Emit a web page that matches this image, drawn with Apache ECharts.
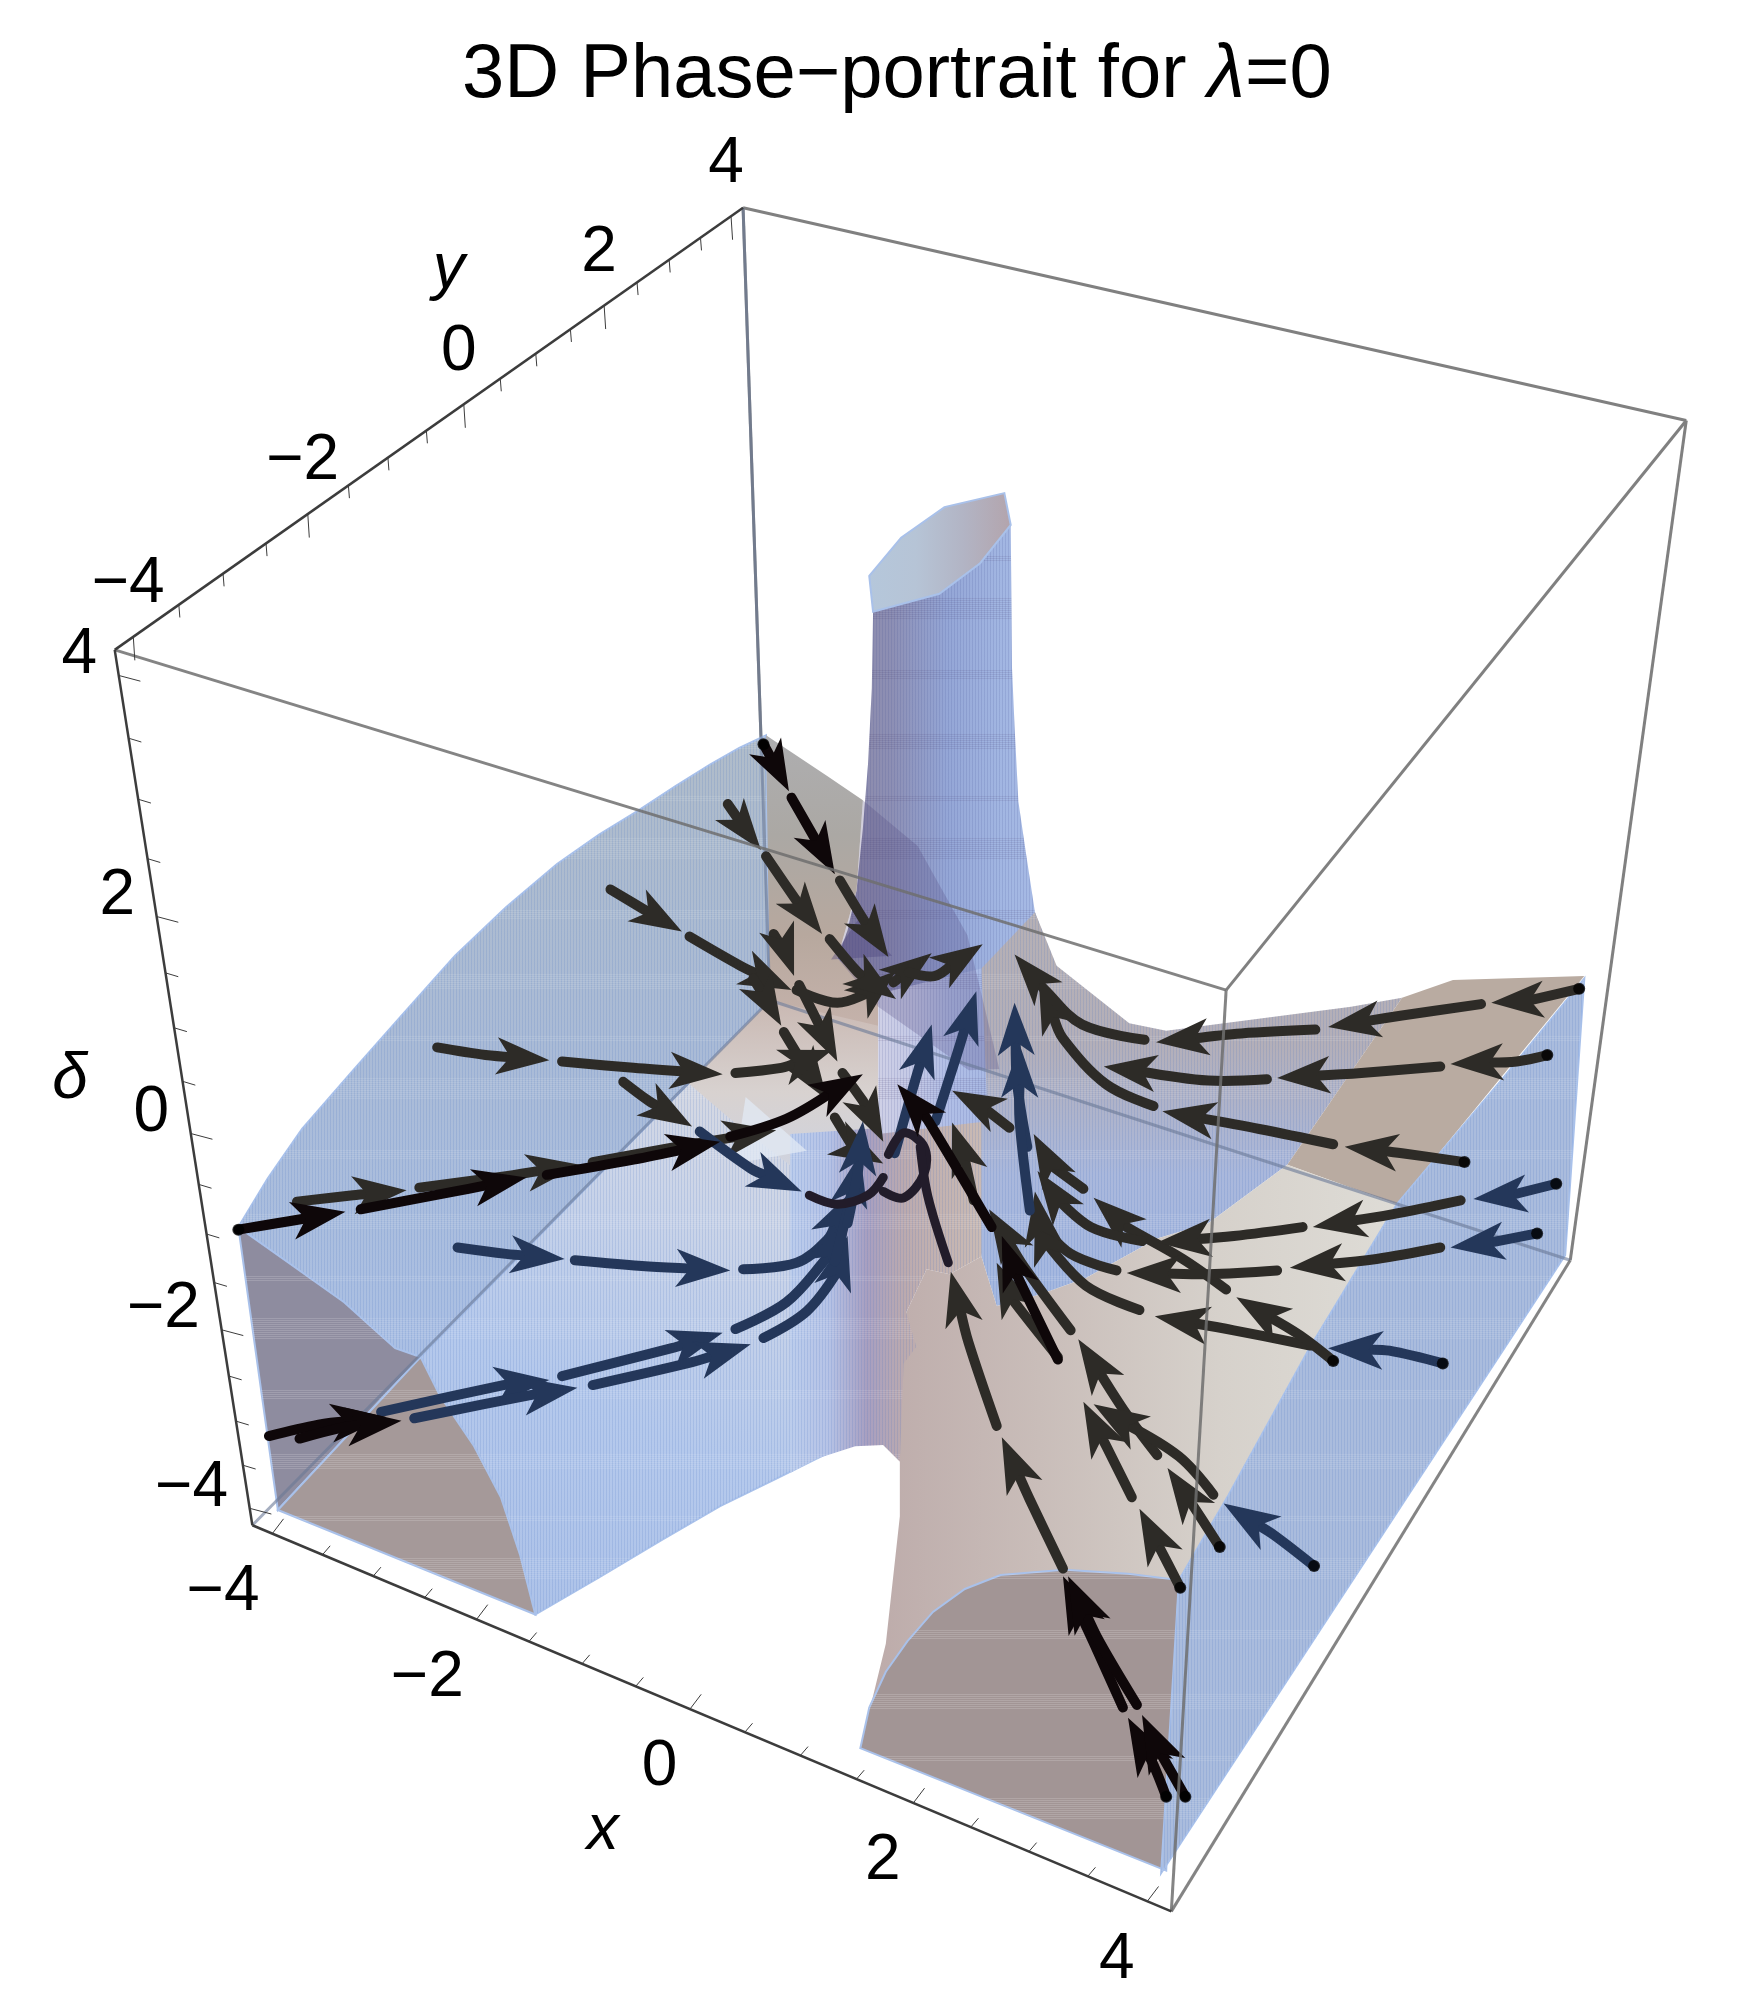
<!DOCTYPE html>
<html>
<head>
<meta charset="utf-8">
<title>3D Phase-portrait</title>
<script src="https://cdn.jsdelivr.net/npm/echarts@6/dist/echarts.min.js"></script>
<style>
    html, body { margin: 0; padding: 0; background: #fff; }
    #main { width: 1764px; height: 1998px; }
</style>
</head>
<body>
<div id="main"></div>
<script>
    // all picture data is in plot units: x 0..1384, y 0..1568 (y runs downwards)

    // box corners, named by (x, y, delta) sign
    const cornerMMP = [90, 510];
    const cornerMPP = [583, 163];
    const cornerPPP = [1323, 330];
    const cornerPMP = [962, 777];
    const cornerMMM = [198, 1197];
    const cornerPMM = [919, 1500];
    const cornerPPM = [1232, 989];
    const cornerMPM = [604, 785];

    // tick values
    const xTicks = [-4, -3.5, -3, -2.5, -2, -1.5, -1, -0.5, 0, 0.5, 1, 1.5, 2, 2.5, 3, 3.5, 4];
    const yTicks = xTicks;
    const deltaTicks = xTicks;
    const tickLabels = ['−4', '−2', '0', '2', '4'];

    // surface patches
    const towerBody = [[682, 452], [685, 480], [684, 540], [681, 600], [677, 650], [672, 699], [665, 730], [657, 752], [700, 800], [770, 800], [829, 762], [812, 716], [805, 670], [799, 629], [796, 570], [794, 524], [793, 412], [788, 387], [741, 398], [707, 422]];
    const towerMouth = [[682, 452], [707, 422], [741, 398], [788, 387], [793, 412], [769, 442], [737, 466], [685, 480]];
    const wingBack = [[812, 716], [829, 758], [886, 803], [915, 809], [1060, 790], [1100, 783], [1010, 914], [948, 960], [908, 972], [852, 1003], [816, 1016], [782, 1025], [770, 986], [760, 890], [770, 760]];
    const wingTan = [[1100, 783], [1140, 769], [1243, 766], [1096, 945], [1010, 914]];
    const frontBody = [[1010, 914], [1096, 945], [1028, 1057], [964, 1173], [925, 1240], [885, 1235], [835, 1232], [785, 1236], [757, 1247], [732, 1265], [712, 1288], [695, 1312], [682, 1340], [675, 1372], [695, 1290], [706, 1190], [706, 1147], [693, 1134], [711, 1030], [727, 996], [745, 1000], [770, 986], [782, 1025], [816, 1016], [852, 1003], [908, 972], [948, 960]];
    const frontCap = [[675, 1372], [682, 1340], [695, 1312], [712, 1288], [732, 1265], [757, 1247], [785, 1236], [835, 1232], [885, 1235], [925, 1240], [915, 1468]];
    const wallRight = [[1243, 768], [1228, 985], [911, 1470], [925, 1240], [964, 1173], [1028, 1057], [1096, 945], [1176, 850]];
    const armBack = [[187, 963], [210, 925], [237, 886], [277, 840], [315, 797], [357, 750], [397, 712], [437, 678], [470, 655], [501, 636], [530, 617], [557, 600], [580, 587], [601, 577], [604, 785], [330, 1065], [310, 1058], [270, 1022], [225, 990]];
    const armFront = [[330, 1065], [604, 785], [640, 880], [660, 950], [665, 1133], [640, 1145], [610, 1160], [565, 1182], [520, 1208], [470, 1238], [420, 1267], [408, 1220], [393, 1175], [372, 1135], [345, 1095]];
    const capLeftDark = [[187, 963], [218, 1185], [330, 1065], [310, 1058], [270, 1022], [225, 990]];
    const capLeftBrown = [[218, 1185], [420, 1267], [408, 1220], [393, 1175], [372, 1135], [345, 1095], [330, 1065]];
    const backFold = [[601, 577], [649, 609], [677, 628], [672, 699], [657, 752], [689, 780], [689, 812], [620, 800], [604, 785]];
    const centerPale = [[604, 785], [689, 805], [689, 930], [640, 930], [575, 880], [540, 850]];
    const centerColumn = [[620, 890], [770, 880], [770, 986], [745, 1000], [727, 996], [711, 1030], [719, 1057], [709, 1070], [706, 1147], [693, 1134], [671, 1135], [640, 1145], [620, 1156]];
    const centerBlue = [[689, 780], [770, 760], [775, 880], [689, 890]];
    const armOverTower = [[677, 628], [720, 664], [759, 734], [784, 839], [760, 840], [689, 790], [657, 752], [672, 699]];
    const paleFacet = [[585, 861], [633, 903], [577, 913]];
    const foldFacet = [[652, 753], [673, 722], [700, 750]];

    // stream tubes: every tube ends at the tip of its arrow head
    const blackTubes = [
        [[187, 965], [217, 960], [271, 951]],
        [[283, 949], [357, 935], [413, 924]],
        [[429, 922], [497, 910], [565, 896]],
        [[573, 892], [617, 878], [677, 843]],
        [[599, 584], [609, 602], [619, 621]],
        [[621, 626], [641, 661], [655, 686]],
        [[211, 1127], [250, 1118], [303, 1112]],
        [[235, 1129], [270, 1120], [315, 1115]],
        [[915, 1410], [905, 1385], [885, 1348]],
        [[881, 1340], [858, 1289], [834, 1237]],
        [[930, 1410], [910, 1375], [896, 1346]],
        [[892, 1338], [863, 1289], [838, 1237]],
        [[778, 963], [728, 879], [704, 851]],
        [[830, 1067], [796, 997], [786, 970]]
    ];
    const darkTubes = [
        [[233, 943], [277, 938], [319, 934]],
        [[329, 932], [397, 923], [455, 914]],
        [[465, 912], [537, 899], [609, 887]],
        [[479, 698], [509, 716], [535, 731]],
        [[541, 735], [581, 758], [621, 777]],
        [[625, 777], [657, 787], [685, 777], [703, 762]],
        [[701, 771], [715, 760], [731, 748]],
        [[713, 763], [733, 766], [771, 741]],
        [[571, 631], [587, 654], [597, 667]],
        [[601, 672], [625, 707], [645, 733]],
        [[651, 737], [673, 763], [703, 784]],
        [[659, 691], [677, 721], [697, 751]],
        [[607, 733], [617, 749], [623, 766]],
        [[627, 773], [643, 805], [657, 833]],
        [[661, 842], [677, 864], [693, 896]],
        [[591, 768], [601, 784], [613, 805]],
        [[615, 810], [629, 833], [649, 863]],
        [[655, 877], [669, 900], [693, 913]],
        [[343, 822], [381, 828], [431, 832]],
        [[441, 833], [497, 838], [567, 843]],
        [[577, 842], [613, 838], [653, 824]],
        [[489, 849], [509, 864], [543, 884]],
        [[834, 1231], [808, 1177], [786, 1128]],
        [[782, 1119], [760, 1054], [746, 998]],
        [[926, 1246], [910, 1215], [894, 1184]],
        [[888, 1175], [868, 1135], [850, 1100]],
        [[830, 1065], [796, 1022], [782, 991]],
        [[957, 1214], [935, 1180], [916, 1152]],
        [[908, 1142], [884, 1110], [846, 1051]],
        [[840, 1044], [804, 995], [776, 949]],
        [[952, 1173], [925, 1143], [858, 1102]],
        [[1028, 1056], [968, 1044], [906, 1033]],
        [[894, 1028], [852, 1009], [820, 974], [812, 950]],
        [[1046, 1068], [1020, 1048], [970, 1018]],
        [[962, 1012], [928, 988], [884, 963], [858, 940]],
        [[850, 933], [824, 914], [811, 890]],
        [[1130, 979], [1080, 988], [1012, 995]],
        [[1002, 997], [948, 1000], [884, 999]],
        [[876, 997], [840, 984], [816, 960], [812, 935]],
        [[1146, 942], [1092, 953], [1030, 963]],
        [[1022, 963], [968, 970], [908, 975]],
        [[896, 974], [856, 963], [828, 939], [814, 919]],
        [[1149, 912], [1100, 905], [1055, 900]],
        [[1046, 898], [988, 886], [912, 872]],
        [[905, 868], [868, 851], [834, 815], [815, 770]],
        [[1214, 828], [1190, 833], [1138, 835]],
        [[1130, 837], [1068, 842], [1002, 846]],
        [[994, 847], [948, 848], [866, 837]],
        [[1239, 776], [1200, 785], [1170, 787]],
        [[1162, 788], [1100, 797], [1042, 806]],
        [[1032, 808], [974, 811], [907, 818]],
        [[898, 816], [849, 804], [819, 776], [796, 749]],
        [[792, 885], [770, 868], [747, 856]],
        [[764, 942], [757, 910], [747, 881]]
    ];
    const navyTubes = [
        [[359, 979], [397, 984], [443, 988]],
        [[451, 989], [509, 994], [573, 997]],
        [[583, 996], [625, 991], [649, 973], [669, 934]],
        [[299, 1108], [395, 1087], [431, 1083]],
        [[441, 1080], [527, 1058], [567, 1046]],
        [[577, 1043], [617, 1022], [649, 987], [665, 959]],
        [[325, 1113], [415, 1095], [453, 1089]],
        [[465, 1087], [543, 1069], [589, 1055]],
        [[599, 1050], [633, 1029], [657, 998], [665, 970]],
        [[549, 888], [589, 917], [629, 935]],
        [[655, 990], [665, 950], [675, 905]],
        [[665, 960], [673, 920], [677, 880]],
        [[1031, 1229], [1000, 1205], [960, 1180]],
        [[1132, 1070], [1090, 1060], [1042, 1058]],
        [[1206, 968], [1170, 975], [1138, 979]],
        [[1221, 929], [1185, 938], [1156, 941]],
        [[702, 905], [716, 855], [731, 804]],
        [[734, 880], [750, 830], [766, 778]],
        [[806, 900], [798, 850], [796, 787]],
        [[808, 950], [800, 880], [800, 820]]
    ];
    const loopTubes = [
        [[635, 938], [657, 945], [681, 938], [693, 924]],
        [[697, 906], [709, 889], [725, 900], [725, 921], [709, 940], [693, 935]],
        [[744, 991], [728, 939], [722, 900]]
    ];
    const startDots = [[1239, 776], [1214, 828], [1149, 912], [1221, 929], [1206, 968], [1132, 1070], [1046, 1068], [1031, 1229], [957, 1214], [926, 1246], [915, 1410], [930, 1410], [187, 965], [599, 584]];

    const GREY = '#808080';
    const AXIS = '#3c3c3c';
    const FONT = '"Liberation Sans", Arial, sans-serif';

    // fine mesh look of the plot: thin vertical lines and horizontal bands
    function meshPattern(lineColor, bandColor, vertical) {
        const c = document.createElement('canvas');
        c.width = 240;
        c.height = 240;
        const g = c.getContext('2d');
        if (vertical) {
            g.fillStyle = lineColor;
            for (let i = 0; i < 240; i += 3) {
                g.fillRect(i, 0, 1, 240);
            }
        }
        g.fillStyle = bandColor;
        [[14, 16], [76, 6], [118, 22], [190, 10]].forEach(function (b) {
            for (let j = 0; j < b[1]; j += 2) {
                g.fillRect(0, b[0] + j, 240, 1);
            }
        });
        return { image: c, repeat: 'repeat' };
    }
    const meshBlue = meshPattern('rgba(70,110,190,0.16)', 'rgba(255,255,255,0.1)', true);
    const meshCap = meshPattern('rgba(0,0,0,0)', 'rgba(255,255,255,0.16)', false);
    const meshTower = meshPattern('rgba(60,70,140,0.14)', 'rgba(60,40,90,0.1)', true);

    function grad(x, y, x2, y2, colors) {
        return {
            type: 'linear', x: x, y: y, x2: x2, y2: y2,
            colorStops: colors.map(function (col, i) {
                return { offset: i / (colors.length - 1), color: col };
            })
        };
    }

    const EDGE = '#a9c1ea';
    const patches = [
        { pts: towerBody, fill: grad(0, 0, 1, 0, ['#8d89a6', '#8d8fb4', '#94a6d6', '#a2b6e2', '#a9bce6']), mesh: meshTower },
        { pts: towerMouth, fill: grad(0, 0, 1, 0, ['#b5c7db', '#b6c4d6', '#b2b4c4', '#b3a4ac']), stroke: EDGE },
        { pts: wingBack, fill: grad(0, 0, 0, 1, ['#b6b0b4', '#b4afb8', '#aab8dc', '#a4b8e0']), mesh: meshBlue },
        { pts: wingTan, fill: '#b9aba1' },
        { pts: frontBody, fill: grad(0, 0, 1, 0, ['#bcaaa9', '#c9bdb9', '#d6d1cb', '#dedcd6']) },
        { pts: frontCap, fill: '#a29595', stroke: EDGE, mesh: meshCap },
        { pts: wallRight, fill: '#aabcdd', stroke: EDGE, mesh: meshBlue },
        { pts: armBack, fill: grad(0, 0, 0, 1, ['#b0bcc9', '#aabbd6', '#abc0e4']), stroke: EDGE, mesh: meshBlue },
        { pts: armFront, fill: grad(0.9, 0, 0.2, 1, ['#e0dcdc', '#ccd5e8', '#b5c9ec', '#adc2e8']), stroke: EDGE, mesh: meshBlue },
        { pts: capLeftDark, fill: '#8e8c9f', stroke: EDGE, mesh: meshCap },
        { pts: capLeftBrown, fill: '#a59999', stroke: EDGE, mesh: meshCap },
        { pts: backFold, fill: grad(0, 0, 0, 1, ['#aeaeb0', '#aba8a4', '#b7a89e', '#c6b3ac']) },
        { pts: centerPale, fill: grad(0, 0, 0, 1, ['#c9b8b2', '#d8d2d0', '#cdd3e2']) },
        { pts: centerColumn, fill: grad(0, 0, 1, 0, ['#bccdec', '#b6c3e6', '#a89fc0', '#bcaaae', '#c4b3b0', '#c9bab4']), mesh: meshBlue },
        { pts: centerBlue, fill: grad(0, 0, 1, 0, ['#cfd0e6', '#c4c9e6', '#b0bee6', '#a9bae4']), mesh: meshTower },
        { pts: armOverTower, fill: 'rgba(80,70,125,0.26)' },
        { pts: paleFacet, fill: 'rgba(226,233,244,0.75)' },
        { pts: foldFacet, fill: 'rgba(70,60,120,0.35)' }
    ];

    // perspective along an edge: w is the depth ratio, axes run a little past +-4
    function edgePoint(from, to, w, value, sign) {
        const t = (sign * value + 4.2) / 8.4;
        const f = t / (t + (1 - t) * w);
        return [from[0] + (to[0] - from[0]) * f, from[1] + (to[1] - from[1]) * f];
    }

    const axes = [
        { from: cornerMMM, to: cornerPMM, w: 1.1, sign: 1, ticks: xTicks, major: [8.8, -11.6], minor: [6, -7], label: [-10, 46], name: 'x', namePos: [473, 1437] },
        { from: cornerMMP, to: cornerMPP, w: 0.8, sign: 1, ticks: yTicks, major: [1.2, 18.5], minor: [0.8, 10], label: [-4, -41], center: true, name: 'y', namePos: [352, 212] },
        { from: cornerMMP, to: cornerMMM, w: 0.81, sign: -1, ticks: deltaTicks, major: [17, 4.5], minor: [10, 3], label: [-17, -16], name: 'δ', namePos: [55, 848] }
    ];

    const tickRows = [];
    const labelRows = [];
    axes.forEach(function (ax) {
        ax.ticks.forEach(function (v) {
            const p = edgePoint(ax.from, ax.to, ax.w, v, ax.sign);
            const isMajor = v % 2 === 0;
            const d = isMajor ? ax.major : ax.minor;
            tickRows.push([p[0], p[1], p[0] + d[0], p[1] + d[1]]);
            if (isMajor) {
                labelRows.push({
                    pos: [p[0] + ax.label[0], p[1] + ax.label[1]],
                    text: tickLabels[(v + 4) / 2],
                    align: ax.center ? 'center' : 'right',
                    italic: false
                });
            }
        });
        labelRows.push({ pos: ax.namePos, text: ax.name, align: 'center', italic: true });
    });

    function polygonItem(params, api) {
        const patch = patches[params.dataIndex];
        const points = patch.pts.map(function (p) { return api.coord(p); });
        const children = [{
            type: 'polygon',
            shape: { points: points },
            style: { fill: patch.fill, stroke: patch.stroke || null, lineWidth: patch.stroke ? 2 : 0 }
        }];
        if (patch.mesh) {
            children.push({ type: 'polygon', shape: { points: points }, style: { fill: patch.mesh } });
        }
        return { type: 'group', children: children };
    }

    function tubeSeries(tubes, color, z) {
        return {
            type: 'custom',
            coordinateSystem: 'cartesian2d',
            silent: true,
            z: z,
            clip: false,
            data: tubes.map(function (t, i) { return [t[0][0], t[0][1], i]; }),
            encode: { x: 0, y: 1 },
            renderItem: function (params, api) {
                const pts = tubes[params.dataIndex].map(function (p) { return api.coord(p); });
                const tip = pts[pts.length - 1];
                const prev = pts[pts.length - 2];
                const dx = tip[0] - prev[0];
                const dy = tip[1] - prev[1];
                const n = Math.sqrt(dx * dx + dy * dy) || 1;
                const ux = dx / n;
                const uy = dy / n;
                const scale = 0.85 + 0.25 * tip[1] / 1998;
                const len = 54 * scale;
                const half = 19 * scale;
                // tube stops inside the arrow head
                const body = pts.slice(0, -1);
                if (n > len * 0.7) {
                    body.push([tip[0] - ux * len * 0.7, tip[1] - uy * len * 0.7]);
                }
                return {
                    type: 'group',
                    children: [{
                        type: 'polyline',
                        shape: { points: body, smooth: 0.35 },
                        style: { fill: null, stroke: color, lineWidth: 10, lineCap: 'round', lineJoin: 'round' }
                    }, {
                        type: 'polygon',
                        shape: {
                            points: [
                                tip,
                                [tip[0] - ux * len - uy * half, tip[1] - uy * len + ux * half],
                                [tip[0] - ux * len * 0.74, tip[1] - uy * len * 0.74],
                                [tip[0] - ux * len + uy * half, tip[1] - uy * len - ux * half]
                            ]
                        },
                        style: { fill: color }
                    }]
                };
            }
        };
    }

    function plainTubes(tubes, color, z) {
        return {
            type: 'custom',
            coordinateSystem: 'cartesian2d',
            silent: true,
            z: z,
            clip: false,
            data: tubes.map(function (t, i) { return [t[0][0], t[0][1], i]; }),
            encode: { x: 0, y: 1 },
            renderItem: function (params, api) {
                return {
                    type: 'polyline',
                    shape: { points: tubes[params.dataIndex].map(function (p) { return api.coord(p); }), smooth: 0.35 },
                    style: { fill: null, stroke: color, lineWidth: 9, lineCap: 'round' }
                };
            }
        };
    }

    function edgeSeries(edges, color, width, z) {
        return {
            type: 'custom',
            coordinateSystem: 'cartesian2d',
            silent: true,
            z: z,
            clip: false,
            data: edges.map(function (e) { return [e[0][0], e[0][1], e[1][0], e[1][1]]; }),
            encode: { x: [0, 2], y: [1, 3] },
            renderItem: function (params, api) {
                const a = api.coord([api.value(0), api.value(1)]);
                const b = api.coord([api.value(2), api.value(3)]);
                return {
                    type: 'line',
                    shape: { x1: a[0], y1: a[1], x2: b[0], y2: b[1] },
                    style: { stroke: color, lineWidth: width }
                };
            }
        };
    }

    const myChart = echarts.init(document.getElementById('main'), null, { renderer: 'canvas' });
    const option = {
        animation: false,
        backgroundColor: '#ffffff',
        title: {
            left: 457,
            top: 33,
            text: '{a|3D Phase−portrait for }{b|λ}{a|=0}',
            textStyle: {
                fontWeight: 'normal',
                rich: {
                    a: { fontFamily: FONT, fontSize: 76, fontWeight: 'normal', color: '#000' },
                    b: { fontFamily: FONT, fontSize: 76, fontWeight: 'normal', color: '#000', fontStyle: 'italic' }
                }
            }
        },
        grid: { left: 0, right: 0, top: 0, bottom: 0 },
        xAxis: { type: 'value', min: 0, max: 1384, show: false },
        yAxis: { type: 'value', min: 0, max: 1568, inverse: true, show: false },
        series: [
            edgeSeries([[cornerMPP, cornerPPP], [cornerPPP, cornerPMP], [cornerPPP, cornerPPM], [cornerMPP, cornerMPM]], GREY, 3, 1),
            {
                type: 'custom',
                coordinateSystem: 'cartesian2d',
                silent: true,
                z: 2,
                clip: false,
                data: patches.map(function (p) { return [p.pts[0][0], p.pts[0][1]]; }),
                encode: { x: 0, y: 1 },
                renderItem: polygonItem
            },
            // back edges seen through the surface
            edgeSeries([[cornerMPP, cornerMPM], [cornerMMM, cornerMPM], [cornerMPM, cornerPPM]], 'rgba(105,120,150,0.6)', 3, 3),
            tubeSeries(darkTubes, '#2d2b27', 5),
            tubeSeries(navyTubes, '#24375a', 6),
            plainTubes(loopTubes, '#221c2a', 6),
            tubeSeries(blackTubes, '#0e0709', 7),
            {
                type: 'scatter',
                silent: true,
                z: 8,
                symbol: 'circle',
                symbolSize: 12,
                itemStyle: { color: '#000' },
                data: startDots
            },
            // front edges lie over the streamlines
            edgeSeries([[cornerMMP, cornerPMP], [cornerPMP, cornerPMM], [cornerPMM, cornerPPM]], 'rgba(110,110,110,0.85)', 3, 9),
            edgeSeries([[cornerMMP, cornerMPP], [cornerMMP, cornerMMM], [cornerMMM, cornerPMM]], AXIS, 2.5, 10),
            {
                type: 'custom',
                coordinateSystem: 'cartesian2d',
                silent: true,
                z: 10,
                clip: false,
                data: tickRows,
                encode: { x: [0, 2], y: [1, 3] },
                renderItem: function (params, api) {
                    const a = api.coord([api.value(0), api.value(1)]);
                    const b = api.coord([api.value(2), api.value(3)]);
                    return {
                        type: 'line',
                        shape: { x1: a[0], y1: a[1], x2: b[0], y2: b[1] },
                        style: { stroke: AXIS, lineWidth: 1 }
                    };
                }
            },
            {
                type: 'custom',
                coordinateSystem: 'cartesian2d',
                silent: true,
                z: 11,
                clip: false,
                data: labelRows.map(function (r) { return r.pos; }),
                encode: { x: 0, y: 1 },
                renderItem: function (params, api) {
                    const row = labelRows[params.dataIndex];
                    const p = api.coord(row.pos);
                    return {
                        type: 'text',
                        x: p[0],
                        y: p[1],
                        style: {
                            text: row.text,
                            fill: '#000',
                            font: (row.italic ? 'italic ' : '') + '64px ' + FONT,
                            textAlign: row.align,
                            textVerticalAlign: 'middle'
                        }
                    };
                }
            }
        ]
    };
    myChart.setOption(option);
</script>
</body>
</html>
